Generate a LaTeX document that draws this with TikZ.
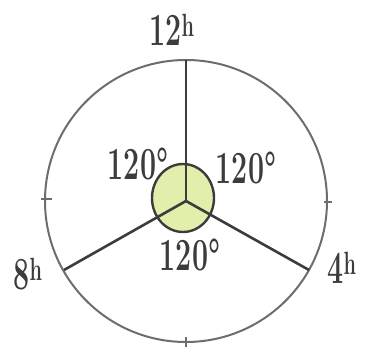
\documentclass[tikz,border=0pt]{standalone}
\usepackage{tikz}
\usetikzlibrary{calc}
\definecolor{pencil}{RGB}{60,60,60}
\definecolor{hubgreen}{RGB}{226,238,172}

\begin{document}
\begin{tikzpicture}[x=1pt,y=-1pt,
    dial/.style={draw=pencil!75, line width=2pt},
    spoke/.style={draw=pencil, line width=2.6pt},
    handlabel/.style={text=pencil, font=\fontsize{46}{50}\selectfont\bfseries, inner sep=0pt,
      xscale=0.62, transform shape}]
\useasboundingbox (0,0) rectangle (373,350);

\coordinate (O) at (186,201);
\coordinate (top) at (186,60);
\coordinate (left) at (64,270);
\coordinate (right) at (309,270);

% dial and hub
\draw[dial] (O) circle (141pt);
\draw[dial, draw=pencil, line width=2.4pt, fill=hubgreen] (183,198) ellipse (31pt and 34pt);

% ticks
\draw[dial, line width=1.2pt] (41,199) -- (52,199);
\draw[dial, line width=1.2pt] (324,202) -- (332,202);
\draw[dial, line width=1.2pt] (186,337) -- (186,347);

% spokes
\draw[spoke] (O) -- (top);
\draw[spoke] (O) -- (left);
\draw[spoke] (O) -- (right);

% hours
\node[handlabel] (h12) at (172,30) {12\textsuperscript{h}};
\node[handlabel] (h8) at (28,274) {8\textsuperscript{h}};
\node[handlabel] (h4) at (342,268) {4\textsuperscript{h}};

% angles
\node[handlabel] (a1) at (138,164) {120\textdegree};
\node[handlabel] (a2) at (246,168) {120\textdegree};
\node[handlabel] (a3) at (190,255) {120\textdegree};
\end{tikzpicture}
\end{document}
